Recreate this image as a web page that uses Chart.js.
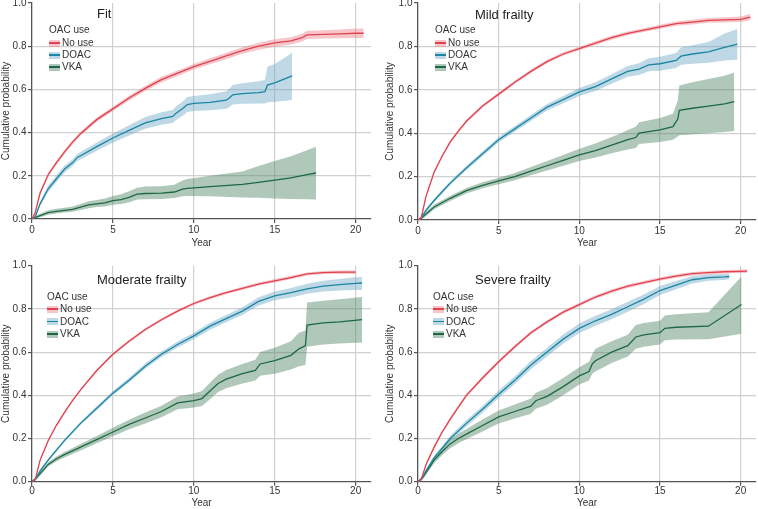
<!doctype html>
<html lang="en">

<head>
    <meta charset="utf-8">
    <title>Cumulative probability by OAC use and frailty</title>
    <style>
        * {
            margin: 0;
            padding: 0;
        }

        body {
            width: 758px;
            height: 509px;
            background: #fff;
            overflow: hidden;
            font-family: "Liberation Sans", Arial, sans-serif;
        }

        .panel {
            position: absolute;
        }

        .panel canvas {
            position: absolute;
            left: 0;
            top: 0;
        }

        .ptitle {
            position: absolute;
            left: 97px;
            font-size: 13px;
            line-height: 13px;
            color: #222;
            white-space: nowrap;
        }

        .legend {
            position: absolute;
            font-size: 10px;
            line-height: 12px;
            color: #333;
            white-space: nowrap;
        }

        .legend div {
            position: absolute;
            left: 0;
        }

        .key {
            position: absolute;
            left: 0;
            top: 2.5px;
            width: 11px;
            height: 7px;
        }

        .key i {
            position: absolute;
            left: 0;
            right: 0;
            top: 2.8px;
            height: 1.4px;
        }
    </style>
</head>

<body>
    <div class="panel" id="p0" style="left:0;top:0;width:379px;height:255px">
        <canvas id="c0" width="379" height="255"></canvas>
    </div>
    <div class="panel" id="p1" style="left:378px;top:0;width:380px;height:255px">
        <canvas id="c1" width="380" height="255"></canvas>
    </div>
    <div class="panel" id="p2" style="left:0;top:255px;width:379px;height:254px">
        <canvas id="c2" width="379" height="254"></canvas>
    </div>
    <div class="panel" id="p3" style="left:378px;top:255px;width:380px;height:254px">
        <canvas id="c3" width="380" height="254"></canvas>
    </div>

    <script src="https://cdn.jsdelivr.net/npm/chart.js"></script>
    <script>
        // groups / titles
        const groups = ['No use', 'DOAC', 'VKA'];
        const panelTitles = ['Fit', 'Mild frailty', 'Moderate frailty', 'Severe frailty'];
        const legendTitle = 'OAC use';
        const xTicks = [0, 5, 10, 15, 20];
        const yTicks = [0, 0.2, 0.4, 0.6, 0.8, 1.0];

        // ---- Fit ----
        const fitNoT = [0, 0.2, 0.5, 1, 1.5, 2, 2.5, 3, 4, 5, 6, 7, 8, 9, 10, 11, 12, 13, 14, 15, 16, 16.7, 17, 18, 19, 20, 20.5];
        const fitNoY = [0, 0.03, 0.12, 0.205, 0.26, 0.31, 0.355, 0.395, 0.46, 0.51, 0.56, 0.605, 0.645, 0.675, 0.705, 0.73, 0.755, 0.78, 0.8, 0.815, 0.825, 0.84, 0.852, 0.855, 0.857, 0.86, 0.86];
        const fitNoLo = [0, 0.024, 0.112, 0.196, 0.25, 0.3, 0.345, 0.385, 0.45, 0.5, 0.549, 0.593, 0.632, 0.662, 0.692, 0.716, 0.74, 0.765, 0.784, 0.798, 0.808, 0.822, 0.833, 0.836, 0.837, 0.838, 0.838];
        const fitNoHi = [0, 0.036, 0.128, 0.214, 0.27, 0.32, 0.365, 0.405, 0.47, 0.52, 0.571, 0.617, 0.658, 0.688, 0.718, 0.744, 0.77, 0.795, 0.816, 0.832, 0.842, 0.858, 0.871, 0.874, 0.877, 0.882, 0.882];

        const fitDoT = [0, 0.2, 0.5, 1, 1.5, 2, 2.5, 2.8, 3, 4, 5, 6, 7, 8, 8.7, 8.9, 9.3, 9.6, 10, 11, 12, 12.2, 12.4, 13, 14, 14.4, 14.55, 15, 16, 16.07];
        const fitDoY = [0, 0.01, 0.07, 0.14, 0.185, 0.23, 0.26, 0.285, 0.293, 0.335, 0.375, 0.41, 0.445, 0.465, 0.475, 0.49, 0.51, 0.53, 0.535, 0.54, 0.55, 0.56, 0.575, 0.58, 0.585, 0.59, 0.62, 0.63, 0.66, 0.665];
        const fitDoLo = [0, 0.005, 0.06, 0.125, 0.17, 0.214, 0.244, 0.268, 0.276, 0.316, 0.354, 0.386, 0.418, 0.436, 0.445, 0.458, 0.477, 0.495, 0.5, 0.503, 0.51, 0.518, 0.53, 0.533, 0.535, 0.535, 0.54, 0.543, 0.55, 0.552];
        const fitDoHi = [0, 0.015, 0.08, 0.155, 0.2, 0.246, 0.276, 0.302, 0.31, 0.354, 0.396, 0.434, 0.472, 0.494, 0.505, 0.522, 0.543, 0.565, 0.57, 0.578, 0.592, 0.603, 0.62, 0.628, 0.638, 0.645, 0.705, 0.718, 0.765, 0.775];

        const fitVkT = [0, 0.3, 1, 1.5, 2, 2.5, 3, 3.5, 4, 4.5, 5, 5.5, 6, 6.5, 7, 8, 8.8, 9.3, 9.6, 11, 13, 14, 15, 16, 17, 17.55];
        const fitVkY = [0, 0.01, 0.03, 0.035, 0.04, 0.045, 0.055, 0.065, 0.07, 0.075, 0.085, 0.09, 0.1, 0.115, 0.118, 0.12, 0.125, 0.138, 0.142, 0.15, 0.16, 0.17, 0.18, 0.19, 0.205, 0.213];
        const fitVkLo = [0, 0.003, 0.02, 0.025, 0.03, 0.034, 0.042, 0.05, 0.055, 0.058, 0.066, 0.07, 0.078, 0.09, 0.092, 0.093, 0.097, 0.105, 0.106, 0.105, 0.1, 0.098, 0.095, 0.093, 0.091, 0.09];
        const fitVkHi = [0, 0.017, 0.04, 0.047, 0.052, 0.058, 0.07, 0.082, 0.088, 0.095, 0.107, 0.115, 0.128, 0.145, 0.15, 0.152, 0.158, 0.178, 0.185, 0.2, 0.22, 0.245, 0.268, 0.29, 0.318, 0.335];

        // ---- Mild frailty ----
        const mildNoT = [0, 0.2, 0.5, 1, 1.5, 2, 2.5, 3, 4, 5, 6, 7, 8, 9, 10, 11, 12, 13, 14, 15, 16, 17, 18, 19, 20, 20.6];
        const mildNoY = [0, 0.01, 0.11, 0.22, 0.295, 0.36, 0.41, 0.455, 0.525, 0.58, 0.635, 0.685, 0.73, 0.765, 0.79, 0.815, 0.84, 0.86, 0.875, 0.89, 0.905, 0.912, 0.92, 0.922, 0.925, 0.935];
        const mildNoLo = [0, 0.005, 0.103, 0.213, 0.288, 0.353, 0.403, 0.448, 0.518, 0.572, 0.627, 0.677, 0.722, 0.757, 0.782, 0.806, 0.831, 0.851, 0.866, 0.88, 0.895, 0.901, 0.909, 0.91, 0.912, 0.92];
        const mildNoHi = [0, 0.015, 0.117, 0.227, 0.302, 0.367, 0.417, 0.462, 0.532, 0.588, 0.643, 0.693, 0.738, 0.773, 0.798, 0.824, 0.849, 0.869, 0.884, 0.9, 0.915, 0.923, 0.931, 0.934, 0.938, 0.95];

        const mildDoT = [0, 0.2, 0.5, 1, 1.5, 2, 3, 4, 5, 6, 7, 8, 9, 10, 11, 12, 13, 13.7, 14.3, 15, 16, 16.3, 17, 18, 19, 19.8];
        const mildDoY = [0, 0.01, 0.045, 0.09, 0.13, 0.17, 0.24, 0.305, 0.37, 0.42, 0.47, 0.52, 0.555, 0.59, 0.615, 0.65, 0.685, 0.695, 0.715, 0.72, 0.735, 0.755, 0.765, 0.775, 0.795, 0.81];
        const mildDoLo = [0, 0.005, 0.038, 0.082, 0.121, 0.161, 0.23, 0.294, 0.358, 0.407, 0.456, 0.505, 0.538, 0.572, 0.595, 0.628, 0.66, 0.668, 0.685, 0.688, 0.7, 0.715, 0.72, 0.725, 0.735, 0.738];
        const mildDoHi = [0, 0.015, 0.052, 0.098, 0.139, 0.179, 0.25, 0.316, 0.382, 0.433, 0.484, 0.535, 0.572, 0.608, 0.635, 0.672, 0.71, 0.722, 0.745, 0.752, 0.77, 0.795, 0.805, 0.82, 0.86, 0.88];

        const mildVkT = [0, 0.3, 1, 2, 3, 4, 5, 6, 7, 8, 9, 10, 11, 12, 12.6, 13, 13.5, 13.7, 15, 15.8, 16.1, 16.2, 17, 18, 19, 19.6];
        const mildVkY = [0, 0.015, 0.06, 0.1, 0.135, 0.16, 0.18, 0.2, 0.225, 0.25, 0.275, 0.3, 0.32, 0.345, 0.36, 0.37, 0.38, 0.4, 0.415, 0.43, 0.465, 0.505, 0.515, 0.525, 0.535, 0.545];
        const mildVkLo = [0, 0.005, 0.05, 0.088, 0.122, 0.146, 0.165, 0.183, 0.206, 0.228, 0.25, 0.272, 0.288, 0.308, 0.318, 0.325, 0.332, 0.35, 0.36, 0.37, 0.385, 0.39, 0.395, 0.4, 0.405, 0.41];
        const mildVkHi = [0, 0.025, 0.07, 0.112, 0.148, 0.174, 0.195, 0.217, 0.244, 0.272, 0.3, 0.328, 0.352, 0.382, 0.4, 0.415, 0.43, 0.45, 0.47, 0.49, 0.55, 0.62, 0.635, 0.65, 0.665, 0.68];

        // ---- Moderate frailty ----
        const modNoT = [0, 0.2, 0.5, 1, 1.5, 2, 2.5, 3, 4, 5, 6, 7, 8, 9, 10, 11, 12, 13, 14, 15, 16, 17, 18, 19, 20];
        const modNoY = [0, 0.01, 0.1, 0.19, 0.26, 0.32, 0.375, 0.425, 0.515, 0.59, 0.65, 0.705, 0.75, 0.79, 0.825, 0.852, 0.875, 0.895, 0.915, 0.93, 0.945, 0.962, 0.968, 0.97, 0.97];
        const modNoLo = [0, 0.006, 0.094, 0.184, 0.254, 0.314, 0.369, 0.419, 0.509, 0.583, 0.643, 0.698, 0.743, 0.783, 0.818, 0.845, 0.868, 0.888, 0.908, 0.922, 0.937, 0.955, 0.961, 0.962, 0.962];
        const modNoHi = [0, 0.014, 0.106, 0.196, 0.266, 0.326, 0.381, 0.431, 0.521, 0.597, 0.657, 0.712, 0.757, 0.797, 0.832, 0.859, 0.882, 0.902, 0.922, 0.938, 0.953, 0.969, 0.975, 0.978, 0.978];

        const modDoT = [0, 0.2, 0.5, 1, 1.5, 2, 3, 4, 5, 6, 7, 8, 9, 10, 11, 12, 13, 14, 15, 16, 17, 18, 19, 20, 20.4];
        const modDoY = [0, 0.01, 0.05, 0.1, 0.145, 0.19, 0.27, 0.34, 0.41, 0.47, 0.535, 0.59, 0.635, 0.675, 0.72, 0.755, 0.79, 0.835, 0.86, 0.875, 0.893, 0.905, 0.912, 0.918, 0.92];
        const modDoLo = [0, 0.006, 0.044, 0.093, 0.138, 0.183, 0.262, 0.331, 0.4, 0.459, 0.523, 0.577, 0.621, 0.66, 0.704, 0.738, 0.772, 0.816, 0.84, 0.853, 0.87, 0.88, 0.885, 0.888, 0.888];
        const modDoHi = [0, 0.014, 0.056, 0.107, 0.152, 0.197, 0.278, 0.349, 0.42, 0.481, 0.547, 0.603, 0.649, 0.69, 0.736, 0.772, 0.808, 0.854, 0.88, 0.897, 0.916, 0.93, 0.938, 0.946, 0.948];

        const modVkT = [0, 0.3, 1, 1.5, 2, 3, 4, 5, 6, 7, 8, 9, 10, 10.5, 11, 11.5, 12, 13, 13.8, 14.1, 15, 16, 16.5, 16.9, 17.0, 18, 19, 20.4];
        const modVkY = [0, 0.02, 0.08, 0.105, 0.125, 0.16, 0.195, 0.23, 0.265, 0.295, 0.325, 0.365, 0.375, 0.385, 0.42, 0.455, 0.475, 0.5, 0.515, 0.545, 0.56, 0.585, 0.615, 0.63, 0.725, 0.735, 0.74, 0.75];
        const modVkLo = [0, 0.01, 0.07, 0.093, 0.112, 0.145, 0.178, 0.21, 0.243, 0.27, 0.298, 0.335, 0.343, 0.35, 0.382, 0.415, 0.433, 0.455, 0.468, 0.49, 0.5, 0.52, 0.535, 0.54, 0.625, 0.635, 0.64, 0.645];
        const modVkHi = [0, 0.03, 0.09, 0.117, 0.138, 0.175, 0.212, 0.25, 0.287, 0.32, 0.352, 0.395, 0.408, 0.42, 0.458, 0.495, 0.517, 0.545, 0.565, 0.6, 0.62, 0.65, 0.69, 0.7, 0.83, 0.838, 0.845, 0.855];

        // ---- Severe frailty ----
        const sevNoT = [0, 0.2, 0.5, 1, 1.5, 2, 2.5, 3, 4, 5, 6, 7, 8, 9, 10, 11, 12, 13, 14, 15, 16, 17, 18, 19, 20, 20.4];
        const sevNoY = [0, 0.01, 0.08, 0.16, 0.23, 0.29, 0.345, 0.4, 0.48, 0.555, 0.625, 0.69, 0.74, 0.785, 0.82, 0.855, 0.882, 0.905, 0.922, 0.938, 0.952, 0.963, 0.968, 0.972, 0.974, 0.975];
        const sevNoLo = [0, 0.005, 0.073, 0.152, 0.222, 0.282, 0.337, 0.392, 0.472, 0.547, 0.617, 0.682, 0.732, 0.777, 0.812, 0.847, 0.874, 0.897, 0.914, 0.93, 0.944, 0.955, 0.96, 0.964, 0.966, 0.966];
        const sevNoHi = [0, 0.015, 0.087, 0.168, 0.238, 0.298, 0.353, 0.408, 0.488, 0.563, 0.633, 0.698, 0.748, 0.793, 0.828, 0.863, 0.89, 0.913, 0.93, 0.946, 0.96, 0.971, 0.976, 0.98, 0.982, 0.984];

        const sevDoT = [0, 0.2, 0.5, 1, 1.5, 2, 3, 4, 5, 6, 7, 8, 9, 10, 11, 12, 13, 14, 15, 16, 17, 18, 19, 19.3];
        const sevDoY = [0, 0.01, 0.05, 0.11, 0.155, 0.2, 0.27, 0.335, 0.405, 0.47, 0.54, 0.6, 0.66, 0.71, 0.745, 0.775, 0.81, 0.845, 0.885, 0.91, 0.935, 0.945, 0.948, 0.95];
        const sevDoLo = [0, 0.005, 0.042, 0.1, 0.143, 0.187, 0.255, 0.319, 0.388, 0.452, 0.521, 0.58, 0.639, 0.688, 0.722, 0.752, 0.787, 0.823, 0.864, 0.891, 0.918, 0.93, 0.934, 0.937];
        const sevDoHi = [0, 0.015, 0.058, 0.12, 0.167, 0.213, 0.285, 0.351, 0.422, 0.488, 0.559, 0.62, 0.681, 0.732, 0.768, 0.798, 0.833, 0.867, 0.906, 0.929, 0.952, 0.96, 0.962, 0.963];

        const sevVkT = [0, 0.3, 1, 1.5, 2, 2.5, 3, 4, 5, 6, 7, 7.3, 8, 9, 10, 10.6, 10.8, 11, 12, 13, 13.5, 14, 15, 15.3, 16, 18, 20.05];
        const sevVkY = [0, 0.02, 0.1, 0.14, 0.175, 0.2, 0.22, 0.26, 0.3, 0.325, 0.35, 0.375, 0.395, 0.44, 0.49, 0.51, 0.545, 0.56, 0.6, 0.63, 0.67, 0.68, 0.69, 0.71, 0.715, 0.72, 0.82];
        const sevVkLo = [0, 0.01, 0.085, 0.122, 0.155, 0.178, 0.196, 0.232, 0.27, 0.293, 0.315, 0.338, 0.356, 0.4, 0.45, 0.468, 0.5, 0.51, 0.55, 0.58, 0.615, 0.625, 0.635, 0.655, 0.658, 0.66, 0.685];
        const sevVkHi = [0, 0.03, 0.115, 0.158, 0.195, 0.222, 0.244, 0.288, 0.33, 0.357, 0.385, 0.412, 0.434, 0.48, 0.53, 0.555, 0.59, 0.615, 0.65, 0.68, 0.725, 0.735, 0.745, 0.77, 0.775, 0.785, 0.95];

        // colours
        const lineColors = ['#e0434e', '#1a86a3', '#1d6844'];
        const bandColors = ['rgba(238,128,140,0.45)', 'rgba(100,163,194,0.42)', 'rgba(80,134,102,0.45)'];

        const panelData = [
            [[fitNoT, fitNoY, fitNoLo, fitNoHi], [fitDoT, fitDoY, fitDoLo, fitDoHi], [fitVkT, fitVkY, fitVkLo, fitVkHi]],
            [[mildNoT, mildNoY, mildNoLo, mildNoHi], [mildDoT, mildDoY, mildDoLo, mildDoHi], [mildVkT, mildVkY, mildVkLo, mildVkHi]],
            [[modNoT, modNoY, modNoLo, modNoHi], [modDoT, modDoY, modDoLo, modDoHi], [modVkT, modVkY, modVkLo, modVkHi]],
            [[sevNoT, sevNoY, sevNoLo, sevNoHi], [sevDoT, sevDoY, sevDoLo, sevDoHi], [sevVkT, sevVkY, sevVkLo, sevVkHi]]
        ];

        // layout per panel (pixels inside each canvas)
        const layouts = [
            { yw: 32, top: 3, right: 8, xh: 30, bottom: 6, xpad: 1, ytp: 0, titleY: 7, legX: 49, legY: [24, 37, 49, 61] },
            { yw: 40, top: 3, right: 2, xh: 29, bottom: 6, xpad: 1, ytp: 6, titleY: 7.5, legX: 57, legY: [24, 37, 49, 61] },
            { yw: 32, top: 10.7, right: 8, xh: 27.3, bottom: 0, xpad: 0, ytp: 0, titleY: 17.5, legX: 47, legY: [35.7, 48, 60.7, 73] },
            { yw: 40, top: 10.7, right: 2, xh: 27.3, bottom: 0, xpad: 0, ytp: 6, titleY: 17.5, legX: 55, legY: [35.7, 48, 60.7, 73] }
        ];

        function buildDatasets(series) {
            const ds = [];
            series.forEach(([t, y, lo, hi], i) => {
                const pts = arr => t.map((x, k) => ({ x: x, y: arr[k] }));
                ds.push({ label: groups[i] + ' lower', data: pts(lo), borderWidth: 0, pointRadius: 0, fill: false, order: 2 });
                ds.push({ label: groups[i] + ' upper', data: pts(hi), borderWidth: 0, pointRadius: 0, fill: '-1', backgroundColor: bandColors[i], order: 2 });
                ds.push({ label: groups[i], data: pts(y), borderColor: lineColors[i], borderWidth: 1.3, pointRadius: 0, fill: false, order: 1 });
            });
            return ds;
        }

        function makeChart(idx) {
            const L = layouts[idx];
            const tickFont = { family: '"Liberation Sans", Arial, sans-serif', size: 10 };
            new Chart(document.getElementById('c' + idx), {
                type: 'line',
                data: { datasets: buildDatasets(panelData[idx]) },
                options: {
                    responsive: false,
                    animation: false,
                    devicePixelRatio: 1,
                    layout: { padding: { left: 0, top: L.top, right: L.right, bottom: L.bottom } },
                    elements: { line: { tension: 0 } },
                    plugins: { legend: { display: false }, tooltip: { enabled: false } },
                    scales: {
                        x: {
                            type: 'linear',
                            min: 0,
                            max: 20.95,
                            afterBuildTicks: s => { s.ticks = xTicks.map(v => ({ value: v })); },
                            ticks: { includeBounds: false, color: '#333', font: tickFont, padding: L.xpad, maxRotation: 0, autoSkip: false },
                            grid: { color: c => (c.tick && c.tick.value === 0) ? 'rgba(0,0,0,0)' : '#d0d0d0', lineWidth: 1.2, tickColor: '#555', tickLength: 4 },
                            border: { color: '#555', width: 1.3 },
                            title: { display: true, text: 'Year', color: '#333', font: tickFont, padding: 0 },
                            afterFit: s => { s.height = L.xh; s.paddingLeft = 0; s.paddingRight = 0; }
                        },
                        y: {
                            min: 0,
                            max: 1,
                            afterBuildTicks: s => { s.ticks = yTicks.map(v => ({ value: v })); },
                            ticks: { color: '#333', font: tickFont, padding: 1.5, callback: v => Number(v).toFixed(1) },
                            grid: { color: c => (c.tick && (c.tick.value === 1 || c.tick.value === 0)) ? 'rgba(0,0,0,0)' : '#d0d0d0', lineWidth: 1.2, tickColor: '#555', tickLength: 4 },
                            border: { color: '#555', width: 1.3 },
                            title: { display: true, text: 'Cumulative probability', color: '#333', font: tickFont, padding: L.ytp },
                            afterFit: s => { s.width = L.yw; s.paddingTop = 0; s.paddingBottom = 0; }
                        }
                    }
                }
            });

            // panel title and legend as html text
            const panel = document.getElementById('p' + idx);
            const title = document.createElement('div');
            title.className = 'ptitle';
            title.style.top = L.titleY + 'px';
            title.textContent = panelTitles[idx];
            panel.appendChild(title);

            const leg = document.createElement('div');
            leg.className = 'legend';
            leg.style.left = L.legX + 'px';
            leg.style.top = '0px';
            const head = document.createElement('div');
            head.style.top = L.legY[0] + 'px';
            head.textContent = legendTitle;
            leg.appendChild(head);
            groups.forEach((g, i) => {
                const row = document.createElement('div');
                row.style.top = L.legY[i + 1] + 'px';
                row.style.paddingLeft = '13px';
                row.innerHTML = '<span class="key" style="background:' + bandColors[i] + '"><i style="background:' + lineColors[i] + '"></i></span>' + g;
                leg.appendChild(row);
            });
            panel.appendChild(leg);
        }

        [0, 1, 2, 3].forEach(makeChart);
    </script>
</body>

</html>
